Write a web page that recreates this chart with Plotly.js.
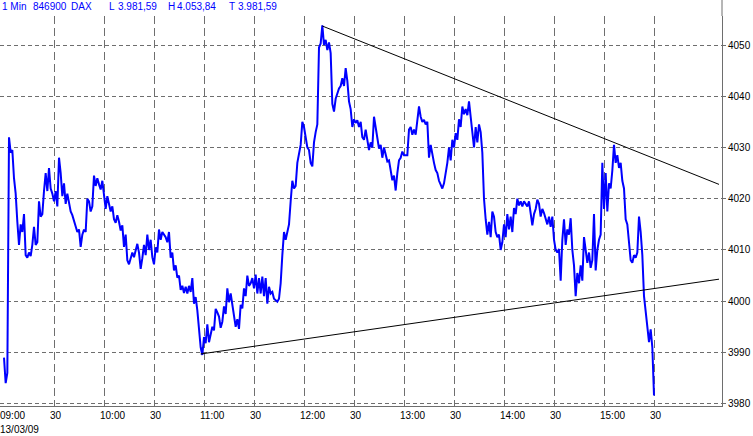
<!DOCTYPE html>
<html>
<head>
<meta charset="utf-8">
<script src="https://cdn.plot.ly/plotly-3.0.1.min.js"></script>
<style>html,body{margin:0;padding:0;background:#fff;}#chart{width:753px;height:436px;}</style>
</head>
<body>
<div id="chart"></div>
<script>
// 1-minute DAX closes, 13/03/09, starting 09:00
const sessionDate = "2009-03-13";
const startTime = "09:00";
const closes = [
3989,3984,3986,4032,4029,4029.5,4024,4021,4015.5,4011,
4015,4013.5,4017,4009,4008.5,4009.5,4008.8,4011,4014.5,4011,
4011.5,4019.5,4016.5,4017,4021.5,4025,4021.5,4026,4022,4021,
4019.5,4021.5,4018.5,4028,4025,4020.5,4023,4019,4021,4019.5,
4017.5,4016.8,4015.5,4014.5,4013.5,4014,4010.6,4013,4014,4013.5,
4020,4019.5,4017.5,4018.5,4024.5,4022.5,4024,4022.8,4021.8,4023.5,
4020,4018,4020.5,4019,4017.5,4018.5,4016,4015.3,4016.8,4015.5,
4013.8,4014.8,4010.6,4013,4008,4007.2,4008.5,4009.5,4008.6,4009.8,
4011.2,4009.5,4006.3,4008.4,4011,4009,4013,4010,4012,4008.6,
4007.2,4010.5,4009.5,4014,4012,4013.5,4013,4012.5,4011.5,4013.5,
4008.5,4009.5,4006,4007,4004.6,4005,4002.2,4003,4001.6,4002.8,
4001.5,4003,4001.8,4004.5,3999.5,4000.8,3998.2,3994,
3991,3989.5,3993,3991.8,3995.5,3992,3993.5,3995,3994.3,3998.5,
3997.8,3997,3994.8,3996,3999,3997.5,4002.5,3999.8,4001.5,3999.5,
3997.5,3995,3996.5,3994.6,3999.3,3998.6,4002.5,4001,4005,4003,
4003.5,4004.5,4002.5,4005.2,4001.5,4004.5,4001.5,4004.8,4001,4004.5,
3999.5,4002.8,4001.5,4001.8,4000.5,4000.2,3999.9,4000.5,4003.5,
4009,4013.5,4012,4013.5,4015,4019.5,4023.5,4022,4022.5,4027,
4029,4030.5,4035,4034,4032,4030,4029.5,4027,4026.3,4031,
4033,4034.5,4049.5,4050.3,4053.84,4050,4051,4049,4050.5,4048.4,
4038.5,4037,4039.5,4040.5,4041.5,4042,4043.5,4042,4045.5,4043,
4039,4037.5,4034,4035.5,4034.8,4035.3,4034,4035,4032,4031.5,
4033.5,4031.5,4029.5,4031,4030,4036,4034,4032,4029.8,4030.5,
4028,4030,4028.5,4027.3,4027.5,4025.5,4023.6,4024.5,4021.6,4025,
4027.5,4028,4029.2,4028.5,4028.5,4028.5,4033.5,4034,4032.5,4033.5,
4032.5,4035.5,4038,4036,4035,4035.4,4034.5,4035,4028,4030.5,
4028.3,4027,4025.6,4025,4023.5,4022.8,4022,4023,4025,4027,
4030,4027.5,4031.5,4030,4032.8,4031.5,4035.5,4034,4038,4036.5,
4037.5,4036.3,4039,4036,4032,4030,4034,4031,4034.5,
4033,4029,4020,4016,4013,4015.5,4012.5,4017.5,4016.5,4013.5,
4012.5,4013,4010,4011.5,4015,4012.5,4017,4014,4016.5,4013.5,
4018.2,4017,4020,4018.7,4019.5,4018.5,4019.5,4019,4018.5,4019.5,
4016.5,4014.8,4017,4018,4019.8,4019,4016.5,4018,4017.2,4016,
4015,4016.5,4014.5,4016.5,4012,4010,4009.5,4010.2,4004,4012,
4016,4011,4014,4013,4016.2,4010,4007,4001,4005.5,4003.5,
4007,4004,4012.5,4010,4007.5,4009.5,4006.5,4008,4017,4006,
4010,4012,4013,4027,4018,4025,4017.5,4023,4022,4025.5,
4030.5,4027,4028.5,4026,4027,4023.5,4022,4016,4015,4011.5,
4008,4007.5,4009,4008.5,4009.5,4016.5,4013.5,4009,4001,3998,
3994.5,3992,3994.5,3991,3981.59
];

// trend lines (two anchor points each)
const upperTrendTimes = ["2009-03-13 12:11", "2009-03-13 16:09"];
const upperTrendValues = [4053.7, 4022.8];
const lowerTrendTimes = ["2009-03-13 10:58", "2009-03-13 16:09"];
const lowerTrendValues = [3989.7, 4004.3];

// axes
const gridTimes = ["09:30","10:00","10:30","11:00","11:30","12:00","12:30","13:00","13:30","14:00","14:30","15:00","15:30"];
const labelTimes = ["09:00","09:30","10:00","10:30","11:00","11:30","12:00","12:30","13:00","13:30","14:00","14:30","15:00","15:30"];
const labelTexts = ["09:00","30","10:00","30","11:00","30","12:00","30","13:00","30","14:00","30","15:00","30"];
const yTicks = [3980,3990,4000,4010,4020,4030,4040,4050];
const dateLabel = "13/03/09";

// header
const headerTexts = ["1 Min","846900","DAX","L","3.981,59","H","4.053,84","T","3.981,59"];
const headerPx = [2,33,71,109,118,168,177,229,238];

function pad(n){return (n<10?"0":"")+n;}
const [sh, sm] = startTime.split(":").map(Number);
const times = closes.map((v,i)=>{
  const t = sh*60+sm+i;
  return sessionDate+" "+pad(Math.floor(t/60))+":"+pad(t%60);
});

const FONT = "Liberation Sans Narrow, Arial Narrow, Liberation Sans, Arial, sans-serif";
const GRID = "#6e6e6e";
const plotW = 722, plotH = 390, topM = 16;

const traces = [
  {x: times, y: closes, type: "scatter", mode: "lines", line: {color: "#0000ff", width: 2}, hoverinfo: "skip"},
  {x: upperTrendTimes, y: upperTrendValues, type: "scatter", mode: "lines", line: {color: "#000000", width: 1}, hoverinfo: "skip"},
  {x: lowerTrendTimes, y: lowerTrendValues, type: "scatter", mode: "lines", line: {color: "#000000", width: 1}, hoverinfo: "skip"}
];

const annotations = [];
labelTimes.forEach((t,i)=>{
  annotations.push({x: sessionDate+" "+t, xref: "x", y: 0, yref: "paper", yanchor: "top", xanchor: "left",
    xshift: -6, yshift: -2, text: labelTexts[i], showarrow: false, font: {family: FONT, size: 10, color: "#000"}});
});
annotations.push({x: 0, xref: "paper", y: 0, yref: "paper", xanchor: "left", yanchor: "top", xshift: -2, yshift: -16,
  text: dateLabel, showarrow: false, font: {family: FONT, size: 10, color: "#000"}});
headerTexts.forEach((t,i)=>{
  annotations.push({x: (headerPx[i]-2)/plotW, xref: "paper", y: 1 + (topM-6)/plotH, yref: "paper", xanchor: "left", yanchor: "middle",
    text: t, showarrow: false, font: {family: FONT, size: 10, color: "#0000ff"}});
});

const layout = {
  width: 753, height: 436,
  margin: {l: 0, r: 31, t: topM, b: 30, pad: 0},
  paper_bgcolor: "#ffffff", plot_bgcolor: "#ffffff",
  showlegend: false,
  xaxis: {
    type: "date",
    range: ["2009-03-13 08:57:36", "2009-03-13 16:10:48"],
    tickmode: "array",
    tickvals: gridTimes.map(t=>sessionDate+" "+t),
    showticklabels: false,
    ticks: "",
    showgrid: true, gridcolor: GRID, gridwidth: 1, griddash: "8px,4px",
    showline: true, linecolor: GRID, linewidth: 1,
    zeroline: false, fixedrange: true
  },
  yaxis: {
    side: "right",
    range: [3979.55, 4055.66],
    tickmode: "array", tickvals: yTicks, ticktext: yTicks.map(String),
    ticks: "outside", ticklen: 3, tickcolor: GRID,
    tickfont: {family: FONT, size: 10, color: "#000"},
    showgrid: true, gridcolor: GRID, gridwidth: 1, griddash: "4px,3px",
    showline: true, linecolor: GRID, linewidth: 1,
    zeroline: false, fixedrange: true
  },
  shapes: [
    {type: "line", xref: "paper", yref: "paper", x0: 1, x1: 1, y0: 1, y1: 1 + topM/plotH, line: {color: GRID, width: 1}}
  ],
  annotations: annotations
};

Plotly.newPlot("chart", traces, layout, {staticPlot: true, displayModeBar: false});
</script>
</body>
</html>
